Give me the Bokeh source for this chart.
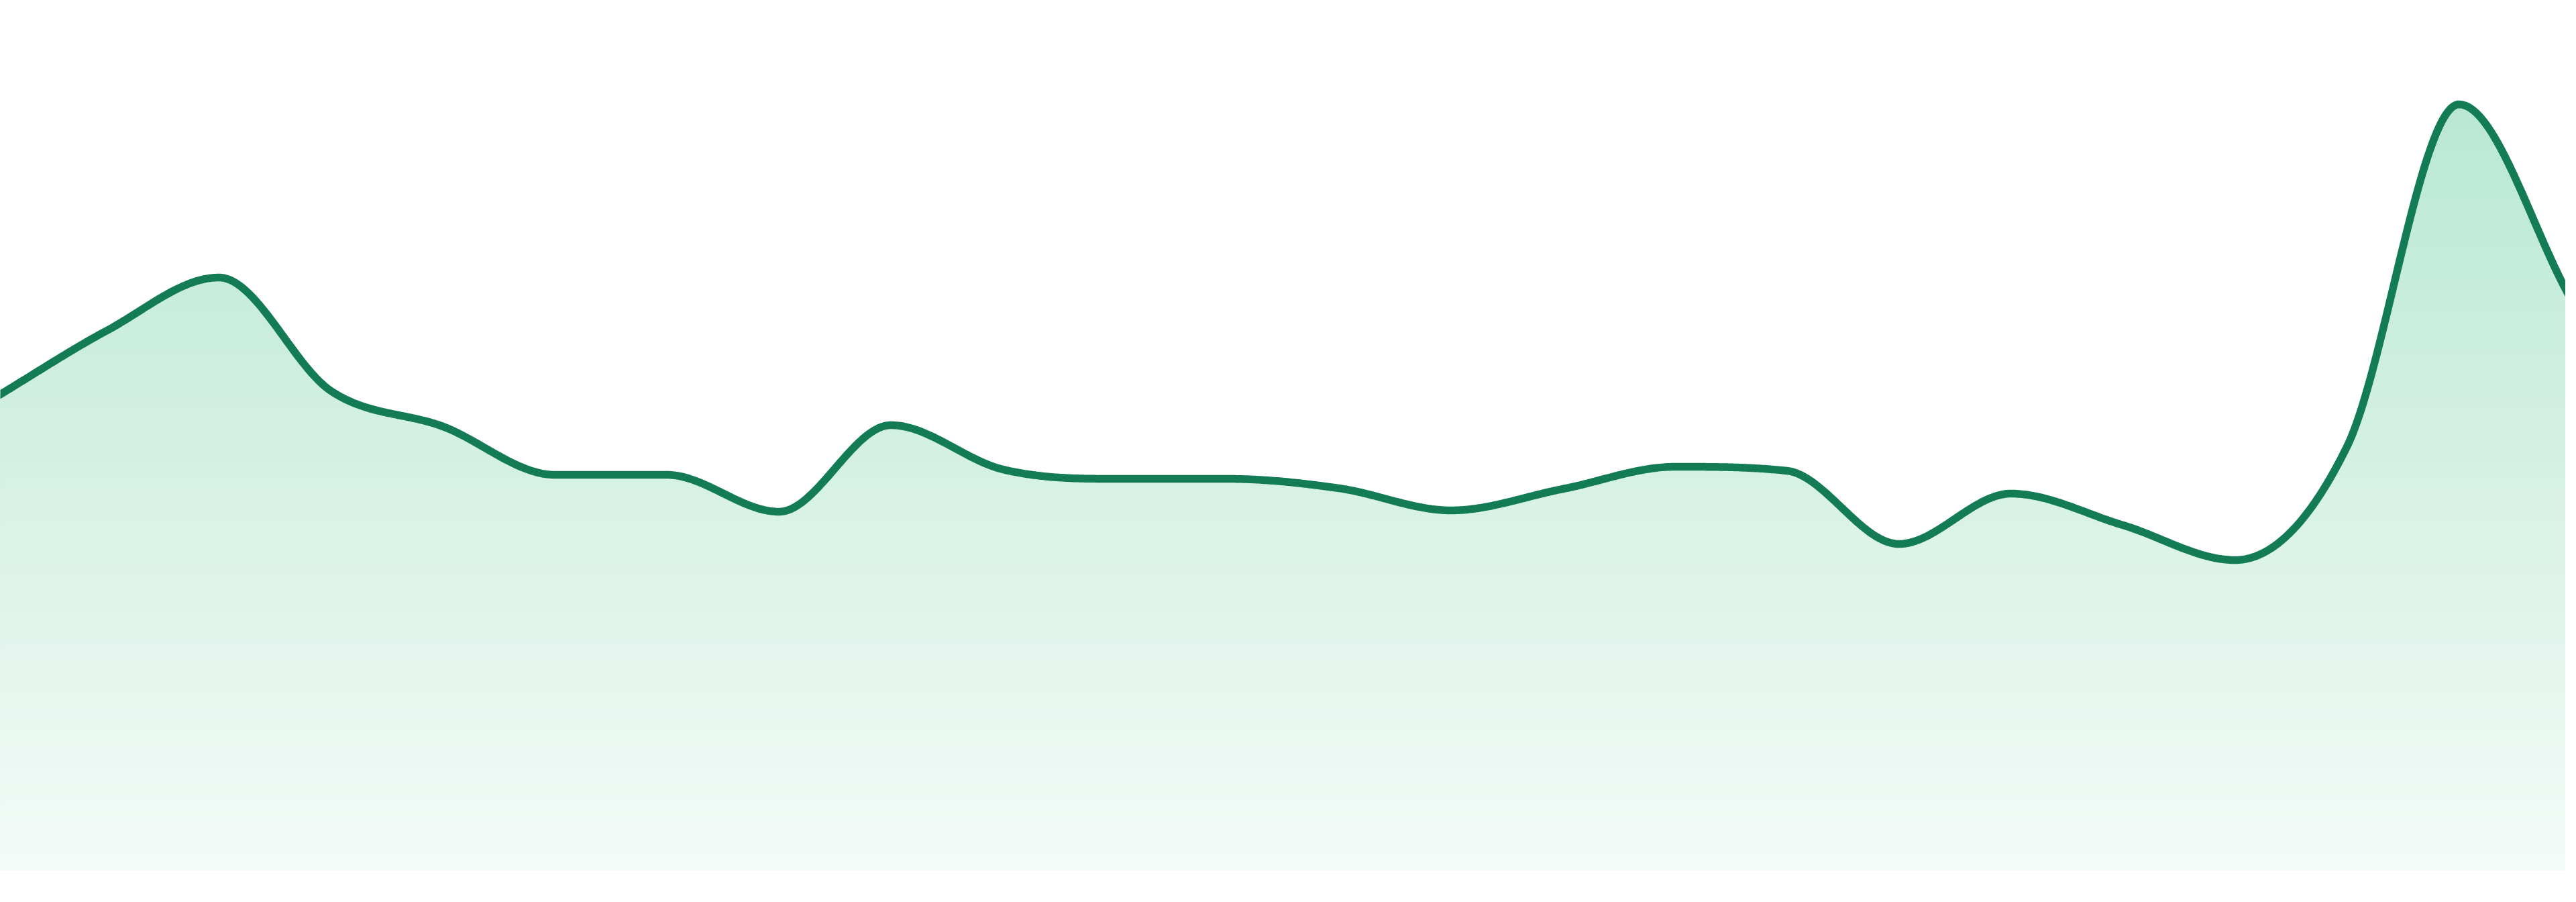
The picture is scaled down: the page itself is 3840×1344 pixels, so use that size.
import numpy as np
from bokeh.plotting import figure
from bokeh.models import Range1d
from bokeh.embed import file_html
from bokeh.resources import INLINE

# values (no axes, so the scale is arbitrary)
values = [70.5, 80.5, 88.4, 71.5, 66.2, 59.0, 59.0, 53.5, 66.4, 59.8, 58.4, 58.4,
          57.0, 53.7, 56.9, 60.2, 59.6, 48.7, 56.2, 51.5, 46.3, 63.2, 114.2, 85.2]
days = list(range(len(values)))

line_color = "#137c54"
fill_top = (187, 232, 213)     # fill colour high up in the chart
fill_bottom = (244, 251, 248)  # fill colour at the baseline


def monotone(x, y, steps=60):
    # monotone cubic, same scheme chart.js uses for cubicInterpolationMode 'monotone'
    x = np.asarray(x, float)
    y = np.asarray(y, float)
    n = len(x)
    d = np.diff(y) / np.diff(x)
    m = np.zeros(n)
    m[0] = d[0]
    m[-1] = d[-1]
    for i in range(1, n - 1):
        if d[i - 1] == 0 or d[i] == 0 or (d[i - 1] > 0) != (d[i] > 0):
            m[i] = 0
        else:
            m[i] = (d[i - 1] + d[i]) / 2
    for i in range(n - 1):
        if abs(d[i]) < 1e-9:
            m[i] = m[i + 1] = 0
            continue
        a = m[i] / d[i]
        b = m[i + 1] / d[i]
        s = a * a + b * b
        if s > 9:
            t = 3 / np.sqrt(s)
            m[i] = a * t * d[i]
            m[i + 1] = b * t * d[i]
    xs, ys = [], []
    for i in range(n - 1):
        dx = x[i + 1] - x[i]
        p0, p3 = y[i], y[i + 1]
        p1 = p0 + m[i] * dx / 3
        p2 = p3 - m[i + 1] * dx / 3
        t = np.linspace(0, 1, steps, endpoint=(i == n - 2))
        xs.append(x[i] + dx * t)
        ys.append((1 - t) ** 3 * p0 + 3 * (1 - t) ** 2 * t * p1 + 3 * (1 - t) * t ** 2 * p2 + t ** 3 * p3)
    return np.concatenate(xs), np.concatenate(ys)


cx, cy = monotone(days, values)

p = figure(width=3824, height=1297, toolbar_location=None, output_backend="svg",
           x_axis_location=None, y_axis_location=None, min_border=0,
           x_range=Range1d(0.0479, 22.952), y_range=Range1d(0, 129.7))
p.grid.visible = False
p.outline_line_color = None
p.background_fill_color = "white"
p.border_fill_color = "white"


def shade(v):
    # page y of this value, then blend between the two observed fill colours
    page_y = 1305 - 10 * v
    t = (page_y - 200) / 1100
    c = [int(round(a + t * (b - a))) for a, b in zip(fill_top, fill_bottom)]
    c = [min(255, max(0, k)) for k in c]
    return "#%02x%02x%02x" % tuple(c)


# vertical gradient: stack areas from the top band down, each one painting over the lower part
top = int(np.ceil(cy.max()))
for hi in range(top, 0, -1):
    p.varea(x=cx, y1=0, y2=np.minimum(cy, hi), fill_color=shade(hi - 0.5), fill_alpha=1)

p.line(cx, cy, line_color=line_color, line_width=11.5, line_join="round", line_cap="round")

open("out.html", "w").write(file_html(p, INLINE))
